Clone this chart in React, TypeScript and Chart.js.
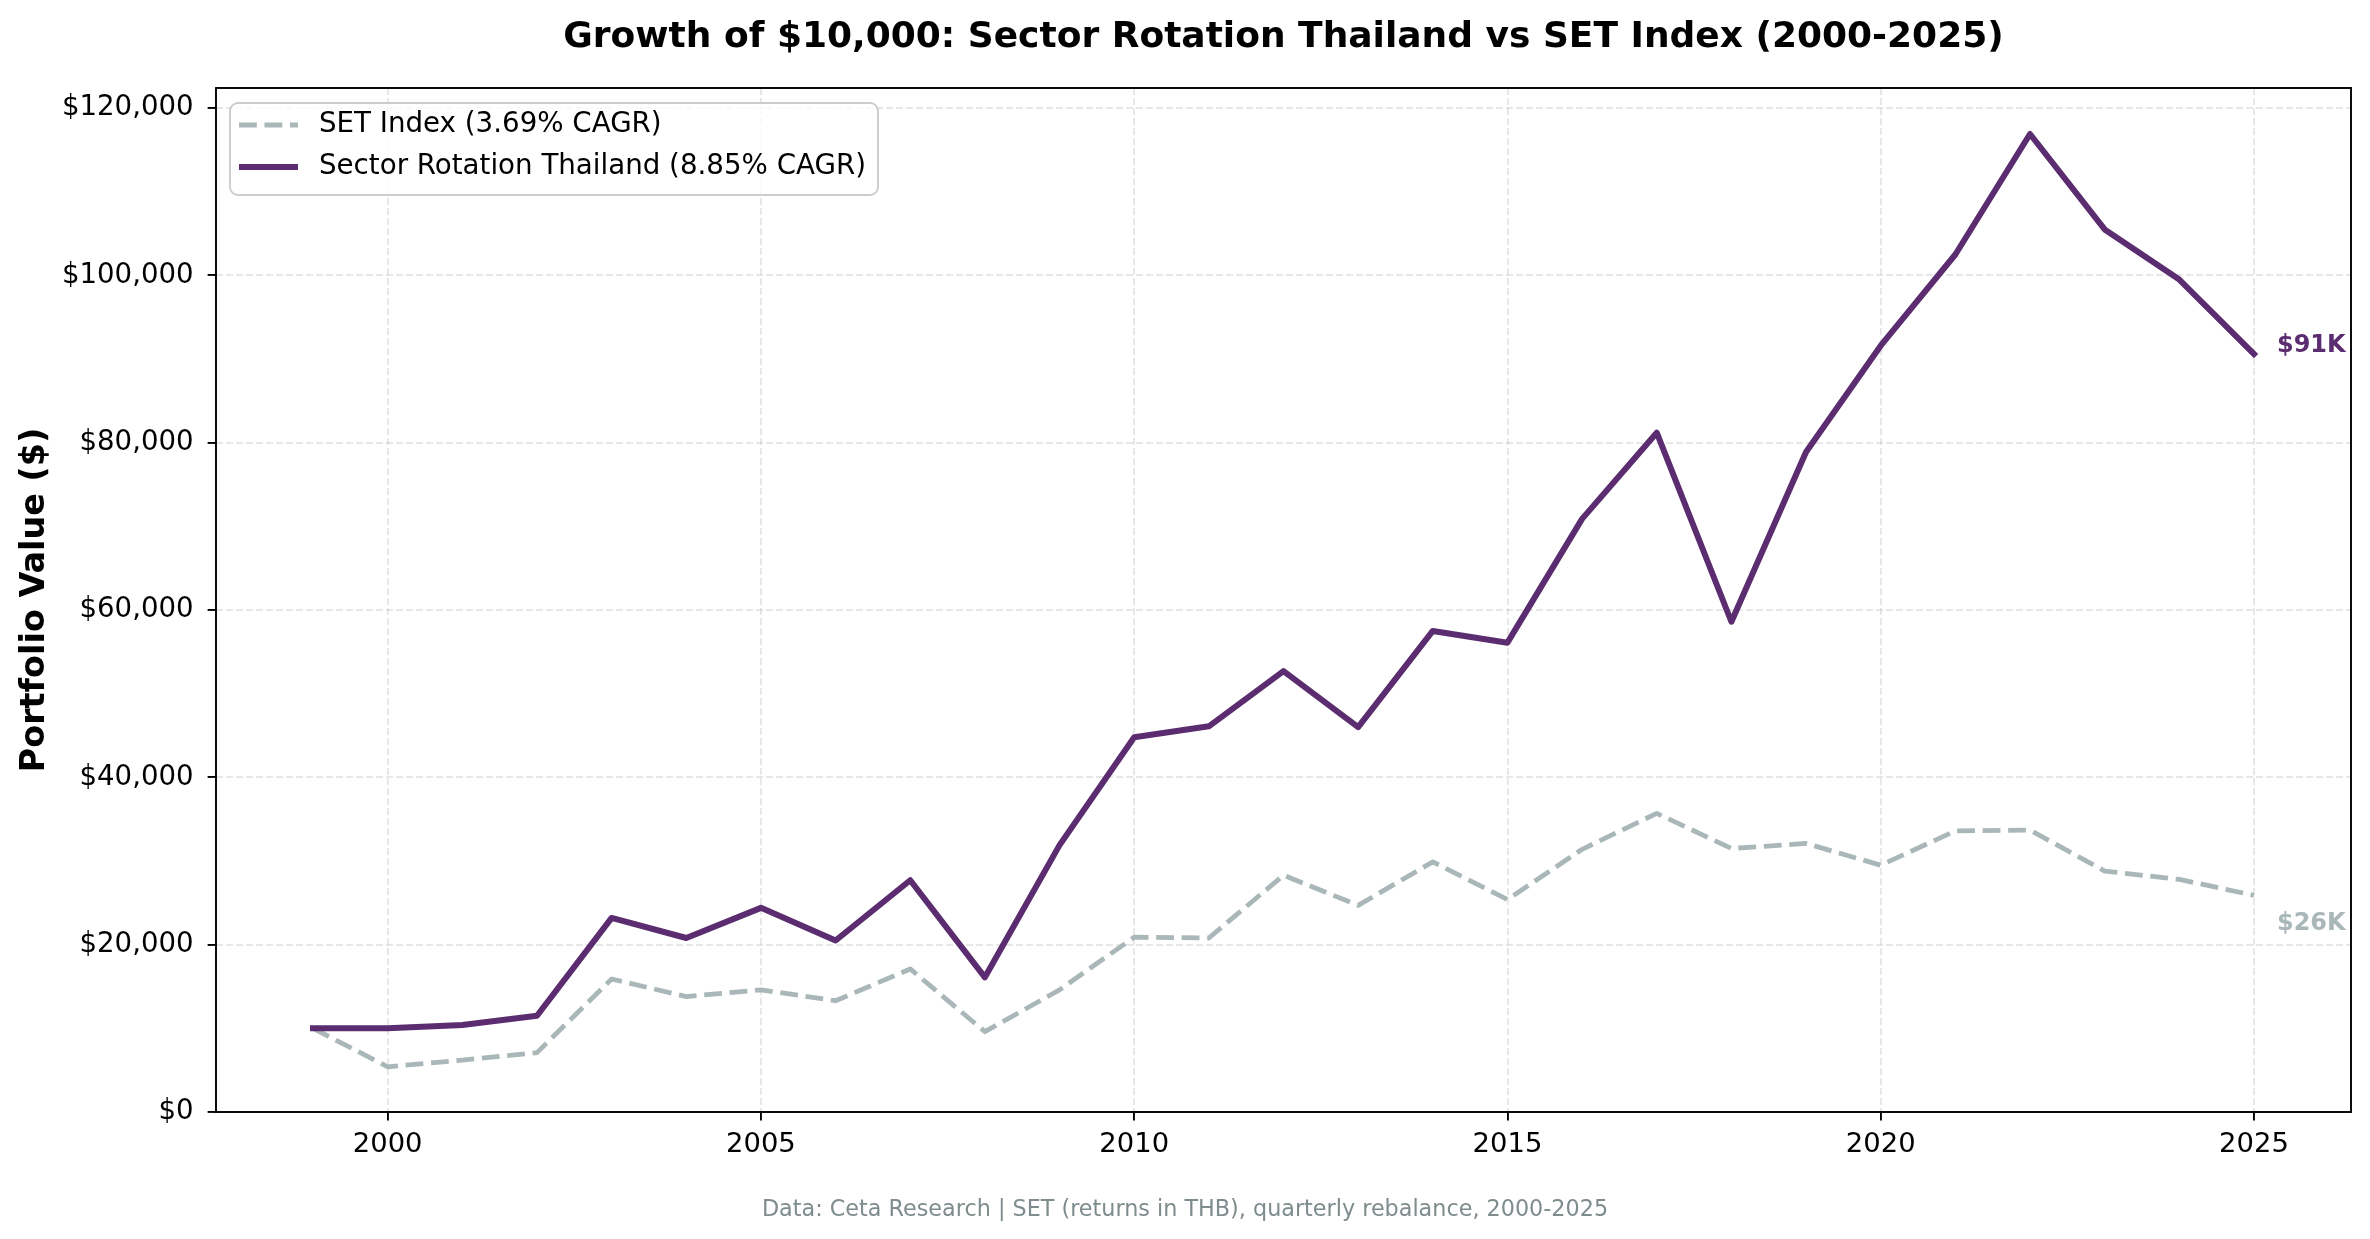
import { useEffect, useRef } from 'react';
import { Chart, registerables } from 'chart.js';

Chart.register(...registerables);

// Datos (valor de la cartera a fin de año)
const years = [
    1999, 2000, 2001, 2002, 2003, 2004, 2005, 2006, 2007, 2008, 2009, 2010, 2011, 2012,
    2013, 2014, 2015, 2016, 2017, 2018, 2019, 2020, 2021, 2022, 2023, 2024, 2025,
];
const strategyValues = [
    10000, 10000, 10400, 11500, 23200, 20800, 24400, 20500, 27700, 16100, 31900, 44800, 46100, 52700,
    46000, 57500, 56100, 70900, 81200, 58600, 78900, 91600, 102500, 116900, 105500, 99500, 90600,
];
const setIndexValues = [
    10000, 5400, 6200, 7100, 15900, 13800, 14600, 13300, 17100, 9600, 14600, 20900, 20800, 28300,
    24700, 29900, 25400, 31400, 35700, 31500, 32100, 29500, 33600, 33700, 28800, 27800, 25900,
];
const xTickValues = [2000, 2005, 2010, 2015, 2020, 2025];
const yTickValues = [0, 20000, 40000, 60000, 80000, 100000, 120000];

const setLabel = 'SET Index (3.69% CAGR)';
const strategyLabel = 'Sector Rotation Thailand (8.85% CAGR)';
const setEndLabel = '$26K';
const strategyEndLabel = '$91K';
const chartTitle = 'Growth of $10,000: Sector Rotation Thailand vs SET Index (2000-2025)';
const yAxisTitle = 'Portfolio Value ($)';
const footnote = 'Data: Ceta Research | SET (returns in THB), quarterly rebalance, 2000-2025';

const PURPLE = '#5B2C6F';
const GRAY = '#AAB7B8';
const FONT = '"DejaVu Sans", sans-serif';
const GRAY_DASH = [17.8, 7.7];

// Título, leyenda, etiquetas finales y marco, dibujados sobre el canvas
const overlayPlugin = {
    id: 'overlay',
    afterDraw(chart: any) {
        const { ctx, chartArea: a, scales } = chart;
        ctx.save();

        // Título
        ctx.fillStyle = '#000';
        ctx.font = `bold 36px ${FONT}`;
        ctx.textAlign = 'center';
        ctx.textBaseline = 'alphabetic';
        ctx.fillText(chartTitle, (a.left + a.right) / 2, 47);

        // Título del eje Y
        ctx.save();
        ctx.translate(35, (a.top + a.bottom) / 2);
        ctx.rotate(-Math.PI / 2);
        ctx.font = `bold 33.4px ${FONT}`;
        ctx.textBaseline = 'middle';
        ctx.fillText(yAxisTitle, 0, 0);
        ctx.restore();

        // Nota al pie
        ctx.font = `22.3px ${FONT}`;
        ctx.fillStyle = '#7F8C8D';
        ctx.textBaseline = 'middle';
        ctx.fillText(footnote, chart.width / 2, 1210);

        // Etiquetas del último valor
        const last = years.length - 1;
        const xEnd = scales.x.getPixelForValue(years[last]) + 23;
        ctx.font = `bold 24px ${FONT}`;
        ctx.textAlign = 'left';
        ctx.fillStyle = PURPLE;
        ctx.fillText(strategyEndLabel, xEnd, scales.y.getPixelForValue(strategyValues[last]) - 8);
        ctx.fillStyle = GRAY;
        ctx.fillText(setEndLabel, xEnd, scales.y.getPixelForValue(setIndexValues[last]) + 28);

        // Leyenda
        const lx = a.left + 14;
        const ly = a.top + 15;
        const lw = 648;
        const lh = 92;
        ctx.beginPath();
        ctx.roundRect(lx, ly, lw, lh, 8);
        ctx.fillStyle = 'rgba(255,255,255,0.8)';
        ctx.fill();
        ctx.strokeStyle = '#cccccc';
        ctx.lineWidth = 1.9;
        ctx.stroke();

        const rows = [
            { label: setLabel, color: GRAY, width: 4.8, dash: GRAY_DASH, cap: 'butt' },
            { label: strategyLabel, color: PURPLE, width: 6, dash: [], cap: 'butt' },
        ];
        rows.forEach((r, i) => {
            const y = ly + 22 + i * 42;
            ctx.beginPath();
            ctx.setLineDash(r.dash);
            ctx.lineCap = r.cap;
            ctx.strokeStyle = r.color;
            ctx.lineWidth = r.width;
            ctx.moveTo(lx + 9, y);
            ctx.lineTo(lx + 68, y);
            ctx.stroke();
            ctx.setLineDash([]);
            ctx.fillStyle = '#000';
            ctx.font = `27.7px ${FONT}`;
            ctx.textBaseline = 'middle';
            ctx.fillText(r.label, lx + 89, y);
        });

        // Marco de los ejes
        ctx.strokeStyle = '#000';
        ctx.lineWidth = 1.9;
        ctx.strokeRect(a.left, a.top, a.right - a.left, a.bottom - a.top);

        ctx.restore();
    },
};

export default function App() {
    const chartRef = useRef<HTMLCanvasElement>(null);
    const chartInstance = useRef<Chart | null>(null);

    useEffect(() => {
        if (!chartRef.current) return;
        const ctx = chartRef.current.getContext('2d');
        if (!ctx) return;

        if (chartInstance.current) {
            chartInstance.current.destroy();
        }

        const gridOpts = {
            color: 'rgba(176,176,176,0.3)',
            lineWidth: 1.9,
            drawTicks: true,
            tickLength: 8.4,
            tickColor: '#000',
            tickWidth: 1.9,
        };

        chartInstance.current = new Chart(ctx, {
            type: 'line',
            data: {
                datasets: [
                    {
                        label: setLabel,
                        data: years.map((x, i) => ({ x, y: setIndexValues[i] })),
                        borderColor: GRAY,
                        borderWidth: 4.8,
                        borderDash: GRAY_DASH,
                        borderCapStyle: 'butt',
                        borderJoinStyle: 'round',
                        pointRadius: 0,
                        tension: 0,
                        fill: false,
                        order: 2,
                    },
                    {
                        label: strategyLabel,
                        data: years.map((x, i) => ({ x, y: strategyValues[i] })),
                        borderColor: PURPLE,
                        borderWidth: 6,
                        borderCapStyle: 'square',
                        borderJoinStyle: 'round',
                        pointRadius: 0,
                        tension: 0,
                        fill: false,
                        order: 1,
                    },
                ],
            },
            options: {
                responsive: true,
                maintainAspectRatio: false,
                animation: false,
                events: [],
                layout: { padding: { top: 88, right: 19, left: 0, bottom: 0 } },
                scales: {
                    x: {
                        type: 'linear',
                        min: 1997.7,
                        max: 2026.3,
                        afterBuildTicks: (scale: any) => {
                            scale.ticks = xTickValues.map((value) => ({ value }));
                        },
                        afterFit: (scale: any) => {
                            scale.height = 127;
                        },
                        grid: gridOpts,
                        border: { display: false, dash: [7, 3] },
                        ticks: {
                            color: '#000',
                            font: { family: FONT, size: 27.4 },
                            padding: 8,
                            maxRotation: 0,
                            autoSkip: false,
                            callback: (v: any) => String(v),
                        },
                    },
                    y: {
                        type: 'linear',
                        min: 0,
                        max: 122400,
                        afterBuildTicks: (scale: any) => {
                            scale.ticks = yTickValues.map((value) => ({ value }));
                        },
                        afterFit: (scale: any) => {
                            scale.width = 216;
                        },
                        grid: gridOpts,
                        border: { display: false, dash: [7, 3] },
                        ticks: {
                            color: '#000',
                            font: { family: FONT, size: 27.6 },
                            padding: 14,
                            autoSkip: false,
                            callback: (v: any) => '$' + Number(v).toLocaleString('en-US'),
                        },
                    },
                },
                plugins: {
                    legend: { display: false },
                    tooltip: { enabled: false },
                    title: { display: false },
                },
            },
            plugins: [overlayPlugin],
        });

        return () => {
            if (chartInstance.current) {
                chartInstance.current.destroy();
                chartInstance.current = null;
            }
        };
    }, []);

    return (
        <div style={{ position: 'fixed', top: 0, left: 0, width: 2370, height: 1239, background: '#fff' }}>
            <canvas ref={chartRef}></canvas>
        </div>
    );
}
